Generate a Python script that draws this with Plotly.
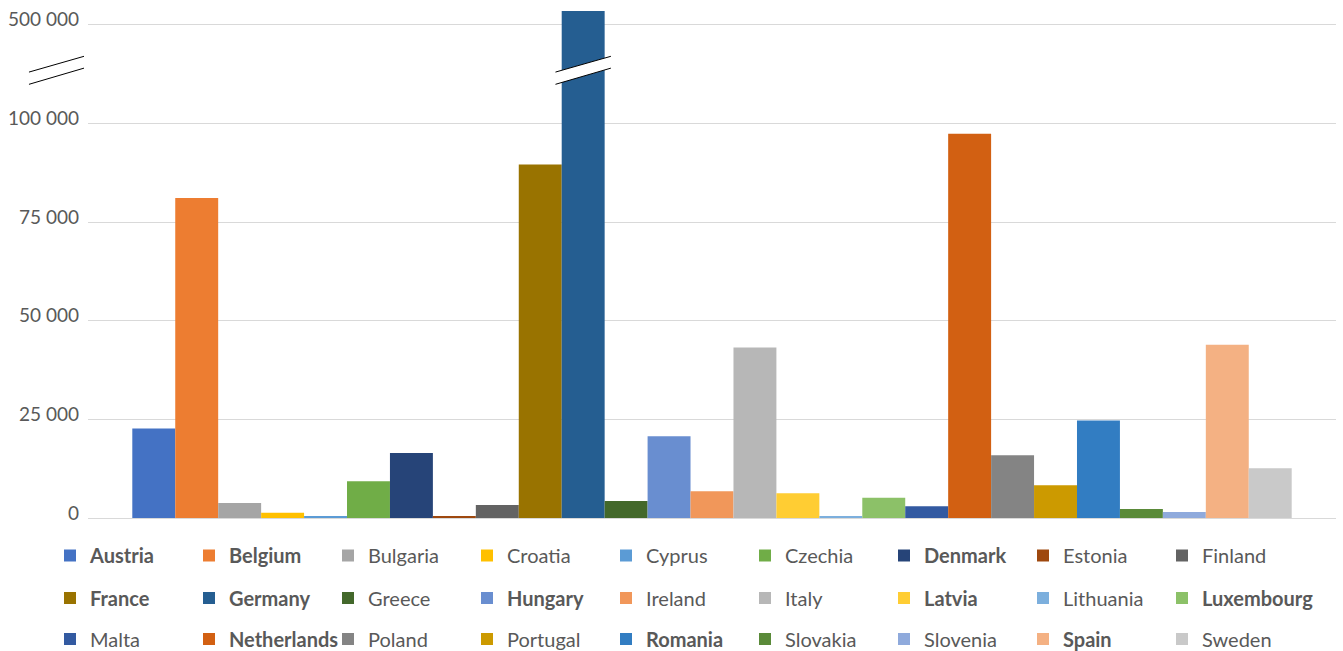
import plotly.graph_objects as go

countries = ["Austria", "Belgium", "Bulgaria", "Croatia", "Cyprus", "Czechia", "Denmark",
             "Estonia", "Finland", "France", "Germany", "Greece", "Hungary", "Ireland",
             "Italy", "Latvia", "Lithuania", "Luxembourg", "Malta", "Netherlands", "Poland",
             "Portugal", "Romania", "Slovakia", "Slovenia", "Spain", "Sweden"]
values = [22700, 81100, 3800, 1300, 500, 9300, 16500,
          400, 3300, 89600, 556000, 4300, 20700, 6800,
          43200, 6300, 500, 5100, 3000, 97400, 15900,
          8300, 24700, 2300, 1500, 43900, 12600]
colors = ["#4472C4", "#ED7D31", "#A5A5A5", "#FFC000", "#5B9BD5", "#70AD47", "#264478",
          "#9E480E", "#636363", "#997300", "#255E91", "#43682B", "#698ED0", "#F1975A",
          "#B7B7B7", "#FFCD33", "#7CAFDD", "#8CC168", "#335AA1", "#D26012", "#848484",
          "#CC9A00", "#327DC2", "#5A8A39", "#8FAADC", "#F4B183", "#C9C9C9"]
bold_names = ["Austria", "Belgium", "Denmark", "France", "Germany", "Hungary", "Latvia",
              "Luxembourg", "Netherlands", "Romania", "Spain"]
tick_values = [0, 25000, 50000, 75000, 100000, 500000]
tick_labels = ["0", "25 000", "50 000", "75 000", "100 000", "500 000"]

BREAK_LOW = 100000
COMPRESS = 16  # 100 000 .. 500 000 shown in one 25 000 step


def disp(v):
    return v if v <= BREAK_LOW else BREAK_LOW + (v - BREAK_LOW) / COMPRESS


BARGAP = 0.071
FONT = "Lato"
TXT = "#595959"
W, H = 1343, 651
PER_ROW = 9
COL_STEP = 139          # px between legend columns
FIRST_COL = 50          # px, left edge of first legend box
ROW_Y = [555.5, 598, 639]

fig = go.Figure()
legends = {}
for i, (name, val, col) in enumerate(zip(countries, values, colors)):
    label = f"<b>{name}</b>" if name in bold_names else name
    lid = "legend" if i == 0 else f"legend{i + 1}"
    r, c = divmod(i, PER_ROW)
    legends[lid] = dict(orientation="h", xref="container", yref="container",
                        x=(FIRST_COL + c * COL_STEP) / W, y=1 - ROW_Y[r] / H,
                        xanchor="left", yanchor="middle",
                        font=dict(family=FONT, size=20, color=TXT), itemwidth=30,
                        bgcolor="rgba(0,0,0,0)")
    fig.add_trace(go.Bar(
        x=["EU"], y=[disp(val)], name=label, marker_color=col,
        marker_line_width=0, customdata=[val], legend=lid,
        hovertemplate=name + ": %{customdata:,}<extra></extra>"))

# axis-break decorations
y_lo1, y_hi1 = disp(BREAK_LOW) + 13000, disp(BREAK_LOW) + 17000
y_lo2, y_hi2 = disp(BREAK_LOW) + 9900, disp(BREAK_LOW) + 14000
shapes = []
for (a, b) in [(y_lo1, y_hi1), (y_lo2, y_hi2)]:
    shapes.append(dict(type="line", xref="paper", yref="y", x0=-0.0473, x1=-0.0032,
                       y0=a, y1=b, line=dict(color="black", width=1)))
n = len(countries)
gi = countries.index("Germany")
bw = (1 - BARGAP) / n
gx0 = -0.5 + BARGAP / 2 + gi * bw - 0.005
gx1 = gx0 + bw + 0.01
shapes.append(dict(type="path", xref="x", yref="y",
                   path=f"M{gx0},{y_lo1} L{gx1},{y_hi1} L{gx1},{y_hi2} L{gx0},{y_lo2} Z",
                   fillcolor="white", line=dict(width=0), layer="above"))
for (a, b) in [(y_lo1, y_hi1), (y_lo2, y_hi2)]:
    shapes.append(dict(type="line", xref="x", yref="y", x0=gx0, x1=gx1,
                       y0=a, y1=b, line=dict(color="black", width=1)))

fig.update_layout(
    width=W, height=H,
    margin=dict(l=88, r=7, t=5, b=133, autoexpand=False),
    paper_bgcolor="white", plot_bgcolor="white",
    barmode="group", bargap=BARGAP, bargroupgap=0,
    font=dict(family=FONT, color=TXT, size=18),
    xaxis=dict(range=[-0.5, 0.5], showticklabels=False, showgrid=False,
               zeroline=False, showline=False, ticks=""),
    yaxis=dict(range=[0, 130000], tickvals=[disp(t) for t in tick_values],
               ticktext=tick_labels, showgrid=True, gridcolor="#D9D9D9", gridwidth=1,
               zeroline=True, zerolinecolor="#D9D9D9", zerolinewidth=1,
               tickfont=dict(family=FONT, size=19, color=TXT),
               ticklabelshift=-5, ticklabelstandoff=8),
    shapes=shapes,
    showlegend=True,
    **legends,
)

fig.write_html("out.html")
